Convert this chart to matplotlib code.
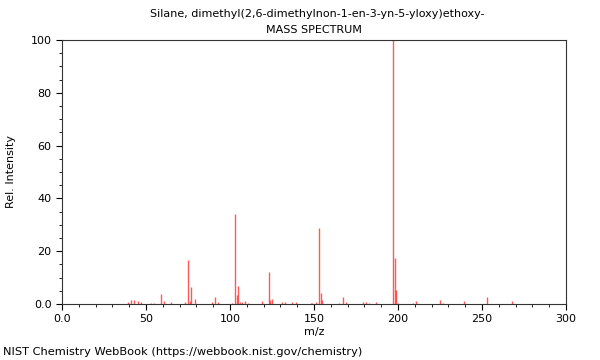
import matplotlib
matplotlib.use('Agg')
import matplotlib.pyplot as plt
from matplotlib.ticker import MultipleLocator, FixedLocator

# m/z and relative intensity
mz = [39, 41, 43, 45, 47, 53, 55, 59, 61, 65, 73, 75, 76, 77, 79,
      89, 91, 93, 101, 103, 104, 105, 106, 107, 109, 111, 119, 123, 124, 125,
      131, 133, 137, 139, 148, 149, 151, 153, 154, 155, 165, 167, 169,
      179, 181, 183, 187, 197, 198, 199, 200, 209, 211, 225, 227, 239,
      253, 268]
intensity = [0.8, 1.4, 1.4, 1.0, 0.9, 0.5, 0.5, 3.8, 1.3, 0.7, 0.8, 16.7, 1.0, 6.3, 1.8,
             0.7, 2.5, 0.7, 0.5, 34.0, 3.4, 6.8, 0.8, 0.8, 1.3, 0.3, 1.2, 12.3, 1.5, 2.0,
             0.8, 0.8, 0.8, 0.8, 0.5, 0.5, 0.6, 28.9, 4.0, 1.4, 0.5, 2.8, 0.7,
             0.8, 0.8, 0.5, 0.7, 100.0, 17.5, 5.4, 0.3, 0.5, 1.3, 1.5, 0.5, 1.2,
             2.6, 1.0]

title1 = "Silane, dimethyl(2,6-dimethylnon-1-en-3-yn-5-yloxy)ethoxy-"
title2 = "MASS SPECTRUM"
footer = "NIST Chemistry WebBook (https://webbook.nist.gov/chemistry)"

plt.rcParams['font.family'] = 'DejaVu Sans'
plt.rcParams['font.size'] = 8

fig = plt.figure(figsize=(6, 3.6), dpi=100)
ax = fig.add_axes([62/600, 1 - 304/360, 504/600, 264/360])

ax.vlines(mz, 0, intensity, colors='#ff3030', linewidth=1.0, alpha=0.8)

ax.set_xlim(0, 300)
ax.set_ylim(0, 100)
ax.xaxis.set_major_locator(FixedLocator([0, 50, 100, 150, 200, 250, 300]))
ax.set_xticklabels(['0.0', '50', '100', '150', '200', '250', '300'])
ax.xaxis.set_minor_locator(MultipleLocator(10))
ax.yaxis.set_major_locator(FixedLocator([0, 20, 40, 60, 80, 100]))
ax.set_yticklabels(['0.0', '20', '40', '60', '80', '100'])
ax.yaxis.set_minor_locator(MultipleLocator(5))
ax.tick_params(which='major', length=4, width=0.8, labelsize=8)
ax.tick_params(which='minor', length=2, width=0.6)

for s in ax.spines.values():
    s.set_linewidth(0.8)
    s.set_color('#333333')

ax.set_xlabel('m/z', fontsize=8, labelpad=2)
ax.set_ylabel('Rel. Intensity', fontsize=8)
ax.yaxis.set_label_coords(-(62 - 16) / 504, 0.5)

fig.text(0.528, 1 - 14/360, title1, ha='center', va='center', fontsize=8)
fig.text(0.523, 1 - 30/360, title2, ha='center', va='center', fontsize=8)
fig.text(3/600, 1 - 352/360, footer, ha='left', va='center', fontsize=8.2)

fig.savefig('out.png', dpi=100)
